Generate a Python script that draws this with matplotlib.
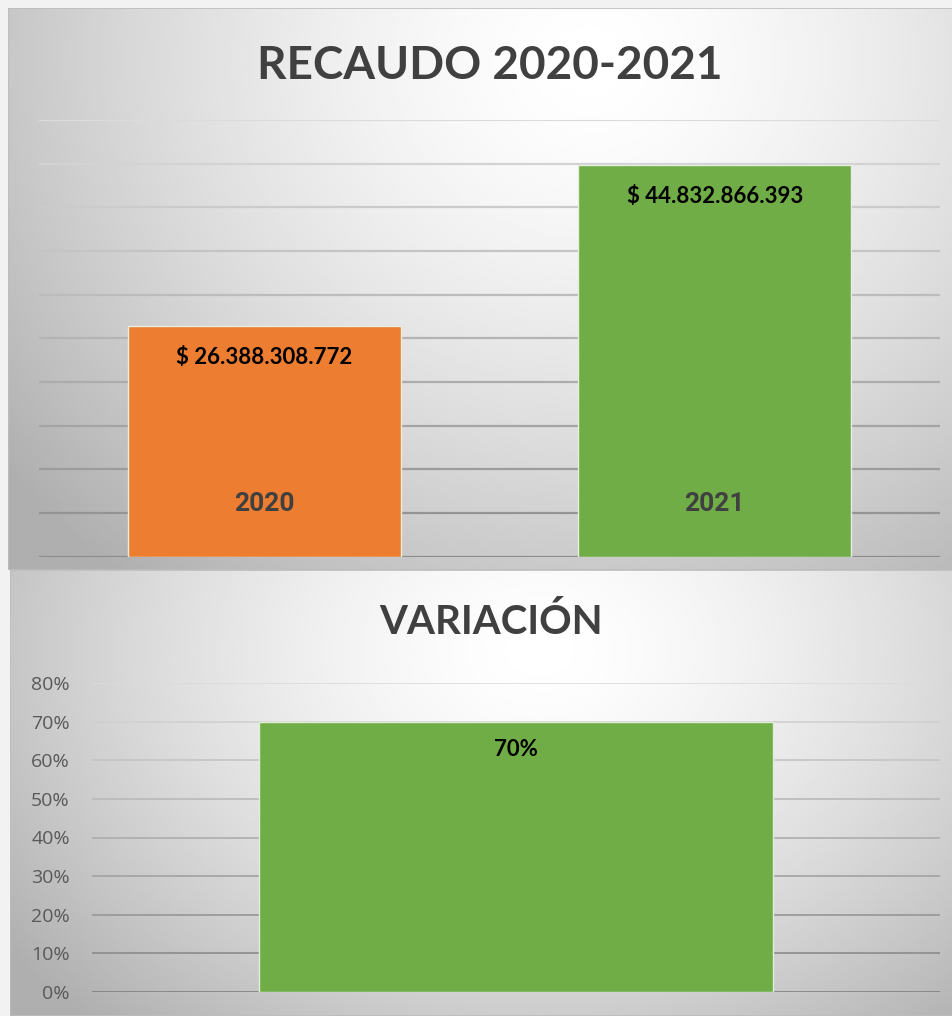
import numpy as np
import matplotlib.pyplot as plt
from matplotlib.patches import Rectangle

# datos del grafico
anios = ['2020', '2021']
recaudo = [26388308772, 44832866393]
recaudo_labels = ['$ 26.388.308.772', '$ 44.832.866.393']
colores = ['#ED7D31', '#70AD47']

variacion_cat = ['Variación']
variacion = [0.70]
variacion_labels = ['70%']
pct_ticks = [0, 0.1, 0.2, 0.3, 0.4, 0.5, 0.6, 0.7, 0.8]

W, H = 953, 1016
fig = plt.figure(figsize=(W / 100, H / 100), dpi=100, facecolor='#f2f2f2')


def px_rect(x0, y0, x1, y1):
    return [x0 / W, 1 - y1 / H, (x1 - x0) / W, (y1 - y0) / H]


def gradient_panel(x0, y0, x1, y1, cx, cy, rx, ry):
    bg = fig.add_axes(px_rect(x0, y0, x1, y1), zorder=0)
    xs = np.linspace(x0, x1, 300)
    ys = np.linspace(y0, y1, 200)
    xx, yy = np.meshgrid(xs, ys)
    r = np.hypot((xx - cx) / rx, (yy - cy) / ry)
    v = 1 - 0.24 * np.clip(r, 0, 1.2) ** 1.5
    bg.imshow(v, cmap='gray', vmin=0, vmax=1, aspect='auto',
              extent=(0, 1, 1, 0), interpolation='bilinear')
    bg.add_patch(Rectangle((0, 0), 1, 1, transform=bg.transAxes, fill=False,
                           edgecolor='#bdbdbd', lw=1.2))
    bg.set_axis_off()


gradient_panel(8, 8, 953, 570, 590, 60, 620, 560)
gradient_panel(10, 570, 953, 1016, 540, 650, 560, 420)


def shade_grid(ax, light, dark):
    lines = ax.get_ygridlines()
    n = len(lines)
    for i, ln in enumerate(lines):
        t = 1 - i / max(n - 1, 1)
        c = light + (dark - light) * t
        ln.set_color((c, c, c))


# --- RECAUDO 2020-2021 ---
ax1 = fig.add_axes(px_rect(39, 120, 940, 556.5), zorder=2)
ax1.patch.set_alpha(0)
x = np.arange(len(anios))
ax1.bar(x, recaudo, width=0.605, color=colores, edgecolor='#e6eee0',
        linewidth=1, zorder=3)
ax1.set_xlim(-0.5, 1.5)
ax1.set_ylim(0, 50e9)
ax1.set_yticks(np.arange(0, 50e9 + 1, 5e9))
ax1.grid(axis='y', linewidth=1.6)
ax1.set_axisbelow(True)
shade_grid(ax1, 0.86, 0.55)
ax1.tick_params(length=0, labelleft=False, labelbottom=False)
for s in ax1.spines.values():
    s.set_visible(False)
for i, (v, lab) in enumerate(zip(recaudo, recaudo_labels)):
    ax1.annotate(lab, (i, v), xytext=(0, -27), textcoords='offset points',
                 ha='center', va='baseline', fontsize=16, fontweight='bold',
                 family=['Lato', 'DejaVu Sans'], color='black', zorder=4)
    ax1.annotate(anios[i], (i, 0), xytext=(0, 33), textcoords='offset points',
                 ha='center', va='baseline', fontsize=19, fontweight='bold',
                 family=['Roboto', 'DejaVu Sans'], color='#404040', zorder=4)

fig.text(490 / W, 1 - 79 / H, 'RECAUDO 2020-2021', ha='center', va='baseline',
         fontsize=33, fontweight='bold', family=['Lato', 'DejaVu Sans'],
         color='#404040')

# --- VARIACION ---
ax2 = fig.add_axes(px_rect(92, 683, 940, 992), zorder=2)
ax2.patch.set_alpha(0)
x2 = np.arange(len(variacion_cat))
ax2.bar(x2, variacion, width=0.605, color='#70AD47', edgecolor='#dfeed6',
        linewidth=1, zorder=3)
ax2.set_xlim(-0.5, 0.5)
ax2.set_ylim(0, 0.8)
ax2.set_yticks(pct_ticks)
ax2.set_yticklabels([f'{int(round(t * 100))}%' for t in pct_ticks],
                    family=['Open Sans', 'DejaVu Sans'], fontsize=14,
                    color='#595959')
ax2.grid(axis='y', linewidth=1.2)
ax2.set_axisbelow(True)
shade_grid(ax2, 0.86, 0.5)
ax2.tick_params(length=0, pad=16, labelbottom=False)
for s in ax2.spines.values():
    s.set_visible(False)
for i, (v, lab) in enumerate(zip(variacion, variacion_labels)):
    ax2.annotate(lab, (i, v), xytext=(0, -25), textcoords='offset points',
                 ha='center', va='baseline', fontsize=16, fontweight='bold',
                 family=['Lato', 'DejaVu Sans'], color='black', zorder=4)

fig.text(491 / W, 1 - 634 / H, 'VARIACIÓN', ha='center', va='baseline',
         fontsize=29, fontweight='bold', family=['Lato', 'DejaVu Sans'],
         color='#404040')

fig.savefig('out.png', dpi=100, facecolor=fig.get_facecolor())
